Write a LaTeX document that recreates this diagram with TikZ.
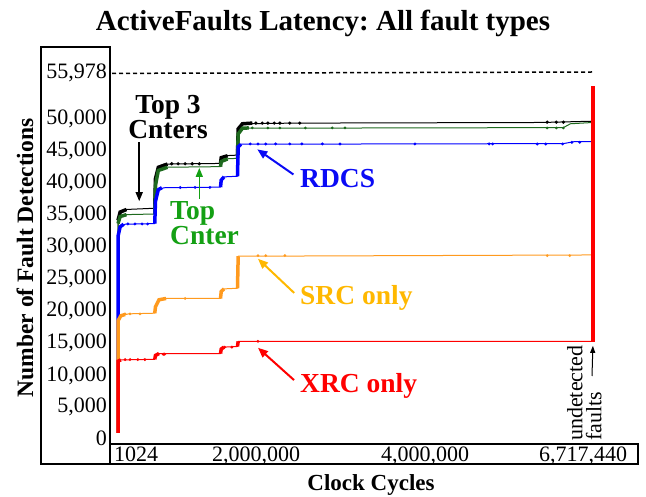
\documentclass[tikz,border=0pt]{standalone}
\usepackage{fontspec}
\setmainfont{Liberation Serif}
\usetikzlibrary{arrows.meta}
\definecolor{cntgreen}{HTML}{1E6A1E}
\definecolor{lblgreen}{HTML}{14A014}
\definecolor{srcorange}{HTML}{FF9A1E}
\definecolor{srcgold}{HTML}{FFB800}
\definecolor{rdcsblue}{HTML}{0A0AF5}
\newcommand{\labfont}{\fontsize{27.5}{25}\selectfont\bfseries}
\newcommand{\tickfont}{\fontsize{22}{22}\selectfont}
\frenchspacing

\begin{document}
\begin{tikzpicture}[x=1pt,y=-1pt,
    lbl/.style={font=\labfont, inner sep=0pt},
    tick/.style={font=\tickfont, inner sep=0pt},
    arr/.style={-{Triangle[length=10pt,width=8pt]}, line width=2pt},
    frame/.style={line width=2pt},
    curve/.style={line width=1pt, line join=round},
    rise/.style={line width=3.5pt}]
\useasboundingbox (0,0) rectangle (646,497);

% titles
\node[font=\fontsize{29}{30}\selectfont\bfseries, anchor=base, inner sep=0pt] (title) at (323,31) {ActiveFaults Latency: All fault types};
\node[font=\fontsize{23.5}{24}\selectfont\bfseries, rotate=90, inner sep=0pt] (ylab) at (25,258) {Number of Fault Detections};
\node[font=\fontsize{23}{24}\selectfont\bfseries, anchor=base, inner sep=0pt] (xlab) at (371,490) {Clock Cycles};

% frames
\draw[frame] (41,47) rectangle (110,464);
\draw[frame] (110,444) rectangle (638,464);

% y axis
\foreach \v/\t in {0/0, 5/{5,000}, 10/{10,000}, 15/{15,000}, 20/{20,000}, 25/{25,000},
                   30/{30,000}, 35/{35,000}, 40/{40,000}, 45/{45,000}, 50/{50,000}}
    \node[tick, anchor=base east] at (107,{445-6.4*\v}) {\t};
\node[tick, anchor=base east] (total) at (107,79) {55,978};
\draw[line width=1.5pt, dash pattern=on 4pt off 3pt] (total.east) ++(5,0) -- (592,72);

% x axis
\node[tick, anchor=base] (xa) at (136,461) {1024};
\node[tick, anchor=base] (xb) at (256,461) {2,000,000};
\node[tick, anchor=base] (xc) at (425,461) {4,000,000};
\node[tick, anchor=base] (xd) at (583,461) {6,717,440};

% data: x in millions of cycles, y in thousands of faults
\begin{scope}[shift={(118,438)}, x=70.7pt, y=6.4pt]
    % Top 3 counters
    \draw[curve, black] (0,0.8) -- (0,34.0) -- (0.03,35.3) -- (0.1,35.7) -- (0.52,35.9) -- (0.53,40.5) -- (0.57,42.3) -- (0.65,42.8) -- (1.45,42.9) -- (1.46,43.8) -- (1.5,44.1) -- (1.69,44.2) -- (1.70,48.3) -- (1.76,49.1) -- (2.5,49.2) -- (6.0,49.3) -- (6.35,49.4) -- (6.717,49.5);
    \draw[rise, black] (0,34.0) -- (0.03,35.3) -- (0.12,35.7);
    \draw[rise, black] (0.52,35.9) -- (0.53,40.5) -- (0.57,42.3) -- (0.7,42.8);
    \draw[rise, black] (1.45,42.9) -- (1.46,43.8) -- (1.55,44.1);
    \draw[rise, black] (1.69,44.2) -- (1.70,48.3) -- (1.76,49.1) -- (1.9,49.2);
    \foreach \x in {0.76,0.85,0.95,1.05,1.15,1.95,2.04,2.12,2.21,2.29,2.43,2.57,6.07,6.2,6.3}
        \fill[black] (\x,{\x<3 ? (\x<1.5 ? 42.85 : 49.2) : 49.35}) circle (1.8pt);
    % Top counter
    \draw[curve, cntgreen] (0,0.8) -- (0,33.5) -- (0.03,34.6) -- (0.1,34.9) -- (0.52,35.0) -- (0.53,39.5) -- (0.57,41.8) -- (0.65,42.3) -- (1.45,42.4) -- (1.46,43.2) -- (1.5,43.6) -- (1.69,43.7) -- (1.70,47.5) -- (1.76,48.4) -- (6.3,48.5) -- (6.4,49.1) -- (6.717,49.3);
    \draw[rise, cntgreen] (0,33.5) -- (0.03,34.6) -- (0.12,34.9);
    \draw[rise, cntgreen] (0.52,35.0) -- (0.53,39.5) -- (0.57,41.8) -- (0.7,42.3);
    \draw[rise, cntgreen] (1.45,42.4) -- (1.46,43.2) -- (1.55,43.6);
    \draw[rise, cntgreen] (1.69,43.7) -- (1.70,47.5) -- (1.76,48.4) -- (1.85,48.45);
    \foreach \x in {1.9,2.12,2.29,2.65,3.03,3.21,6.07,6.2,6.3}
        \fill[cntgreen] (\x,48.45) circle (1.5pt);
    % RDCS
    \draw[curve, blue] (0,0.8) -- (0,31.5) -- (0.03,33.0) -- (0.1,33.4) -- (0.52,33.5) -- (0.53,37.0) -- (0.57,38.8) -- (0.65,39.1) -- (1.45,39.2) -- (1.46,40.3) -- (1.5,40.8) -- (1.69,40.9) -- (1.70,45.5) -- (1.74,45.9) -- (6.3,46.0) -- (6.45,46.3) -- (6.717,46.3);
    \draw[rise, blue] (0,0.8) -- (0,31.5) -- (0.03,33.0) -- (0.08,33.4);
    \draw[rise, blue] (0.52,33.5) -- (0.53,37.0) -- (0.57,38.8) -- (0.62,39.1);
    \draw[rise, blue] (1.45,39.2) -- (1.46,40.3) -- (1.5,40.8);
    \draw[rise, blue] (1.69,40.9) -- (1.70,45.5) -- (1.74,45.9);
    \foreach \x in {0.14,0.24,0.34,0.42}
        \fill[blue] (\x,33.45) circle (1.6pt);
    \foreach \x in {0.88,1.09,1.30}
        \fill[blue] (\x,39.15) circle (1.6pt);
    \foreach \x in {1.87,1.98,2.09,2.23,2.43,2.6,2.89,3.14,4.2,5.25,5.3,5.93,6.05,6.29,6.42,6.53}
        \fill[blue] (\x,{\x<6.3 ? 45.95 : 46.2}) circle (1.6pt);
    % SRC only
    \draw[curve, srcorange] (0,0.8) -- (0,18.3) -- (0.04,19.1) -- (0.15,19.4) -- (0.52,19.5) -- (0.53,20.5) -- (0.58,21.6) -- (0.65,21.8) -- (1.45,21.8) -- (1.46,22.9) -- (1.5,23.3) -- (1.69,23.4) -- (1.70,28.4) -- (6.717,28.6);
    \draw[rise, srcorange] (0,0.8) -- (0,18.3) -- (0.04,19.1) -- (0.1,19.3);
    \draw[rise, srcorange] (0.52,19.5) -- (0.53,20.5) -- (0.58,21.6) -- (0.68,21.8);
    \draw[rise, srcorange] (1.45,21.8) -- (1.46,22.9) -- (1.5,23.3);
    \draw[rise, srcorange] (1.69,23.4) -- (1.70,28.4);
    \foreach \x in {0.1,0.17,0.31,0.95,1.98,2.09,2.36,6.07,6.39}
        \fill[srcorange] (\x,{\x<0.5 ? 19.4 : (\x<1.5 ? 21.8 : 28.5)}) circle (1.5pt);
    % XRC only
    \draw[curve, red] (0,0.8) -- (0,12.0) -- (0.04,12.2) -- (0.52,12.3) -- (0.53,12.9) -- (0.58,13.2) -- (1.45,13.2) -- (1.46,13.9) -- (1.5,14.2) -- (1.69,14.3) -- (1.70,15.1) -- (6.717,15.1);
    \draw[rise, red] (0,0.8) -- (0,12.0) -- (0.04,12.2);
    \draw[rise, red] (0.52,12.3) -- (0.53,12.9) -- (0.58,13.2);
    \draw[rise, red] (1.45,13.2) -- (1.46,13.9) -- (1.5,14.2);
    \draw[rise, red] (1.69,14.3) -- (1.70,15.1);
    \foreach \x in {0.1,0.17,0.28,0.38,0.64,0.66,1.51,1.61,1.98}
        \fill[red] (\x,{\x<0.5 ? 12.25 : (\x<1 ? 13.1 : (\x<1.65 ? 14.2 : 15.1))}) circle (1.6pt);
    % undetected faults
    \draw[red, line width=4pt] (6.717,15.0) -- (6.717,55.0);
    \coordinate (redbot) at (6.717,14.4);
    % arrow tips on the curves
    \coordinate (top3tip) at (0.30,37.0);
    \coordinate (topctip) at (1.15,42.2);
    \coordinate (rdcstip) at (1.97,45.1);
    \coordinate (srctip) at (1.98,28.0);
    \coordinate (xrctip) at (1.98,14.1);
\end{scope}

% labels
\node[lbl, align=center, anchor=base] (top3) at (168,139) {Top 3\\Cnters};
\draw[-{Triangle[length=9pt,width=7pt]}, line width=1.5pt] (top3.south -| top3tip) ++(0,3) -- (top3tip);
\node[lbl, lblgreen, align=left, anchor=base west] (topc) at (170,245) {Top\\Cnter};
\draw[lblgreen, -{Triangle[length=9pt,width=7pt]}, line width=1.5pt] (topc.north -| topctip) ++(0,-3) -- (topctip);
\node[lbl, rdcsblue, anchor=base west] (rdcs) at (300,188) {RDCS};
\draw[arr, rdcsblue, shorten <=8pt] (rdcs.west) -- (rdcstip);
\node[lbl, srcgold, anchor=base west] (src) at (300,305) {SRC only};
\draw[arr, srcgold, shorten <=8pt] (src.west) -- (srctip);
\node[lbl, red, anchor=base west] (xrc) at (300,392) {XRC only};
\draw[arr, red, shorten <=8pt] (xrc.west) -- (xrctip);
\node[font=\fontsize{22}{19}\selectfont, rotate=90, align=left, anchor=north west, inner sep=0pt] (undet) at (567,441) {undetected\\faults};
\coordinate (faultsend) at (592,376);
\draw[-{Triangle[length=7pt,width=5pt]}, line width=1pt] (faultsend) -- (redbot);
\end{tikzpicture}
\end{document}
